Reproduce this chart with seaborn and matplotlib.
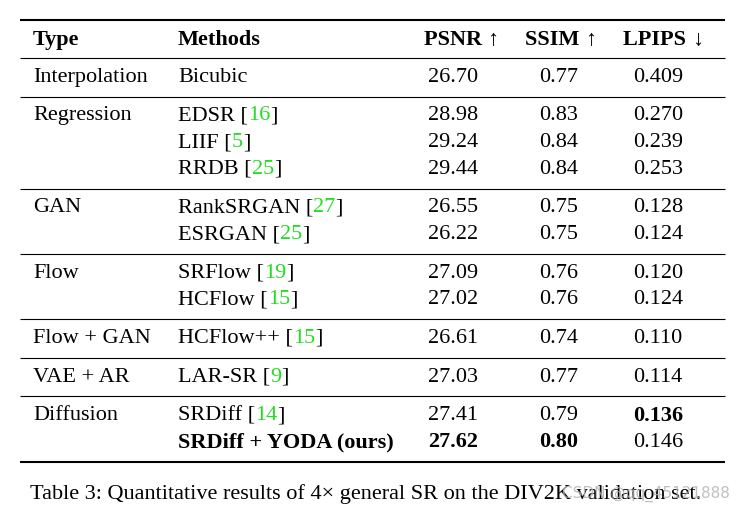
import matplotlib
matplotlib.use("Agg")
import matplotlib.pyplot as plt
import seaborn as sns

# ==============================
# Table data
# ==============================
types = ["Interpolation", "Regression", "", "", "GAN", "", "Flow", "",
         "Flow + GAN", "VAE + AR", "Diffusion", ""]
methods = ["Bicubic", "EDSR", "LIIF", "RRDB", "RankSRGAN", "ESRGAN", "SRFlow",
           "HCFlow", "HCFlow++", "LAR-SR", "SRDiff", "SRDiff + YODA (ours)"]
cites = ["", "16", "5", "25", "27", "25", "19", "15", "15", "9", "14", ""]
psnr = ["26.70", "28.98", "29.24", "29.44", "26.55", "26.22", "27.09", "27.02",
        "26.61", "27.03", "27.41", "27.62"]
ssim = ["0.77", "0.83", "0.84", "0.84", "0.75", "0.75", "0.76", "0.76",
        "0.74", "0.77", "0.79", "0.80"]
lpips = ["0.409", "0.270", "0.239", "0.253", "0.128", "0.124", "0.120", "0.124",
         "0.110", "0.114", "0.136", "0.146"]
group_sizes = [1, 3, 2, 2, 1, 1, 2]
bold_psnr = [11]
bold_ssim = [11]
bold_lpips = [10]
bold_method = [11]
caption = "Table 3: Quantitative results of 4\u00d7 general SR on the DIV2K validation set."

# ==============================
# Style
# ==============================
sns.set_theme(style="white")
plt.rcParams["font.family"] = ["Liberation Serif", "DejaVu Serif"]
FS = 16
GREEN = "#22dd22"

fig = plt.figure(figsize=(7.44, 5.15), dpi=100)
ax = fig.add_axes([0, 0, 1, 1])
ax.set_xlim(0, 744)
ax.set_ylim(515, 0)
ax.axis("off")
renderer = fig.canvas.get_renderer()


def draw_pieces(x, y, pieces, ha="left"):
    # pieces: list of (text, color, weight); drawn side by side
    objs = []
    widths = []
    for txt, col, wt in pieces:
        t = ax.text(0, y, txt, color=col, fontweight=wt, fontsize=FS,
                    va="center", ha="left")
        objs.append(t)
        widths.append(t.get_window_extent(renderer).width)
    total = sum(widths)
    start = x if ha == "left" else x - total / 2
    for t, w in zip(objs, widths):
        t.set_x(start)
        start += w


# columns
x_type, x_meth = 33, 178
x_psnr, x_ssim, x_lpips = 453, 559, 658

# rules
ax.hlines(20, 20, 725, color="black", lw=1.5)
header_y = 40
draw_pieces(x_type, header_y, [("Type", "black", "bold")])
draw_pieces(x_meth, header_y, [("Methods", "black", "bold")])
draw_pieces(461, header_y, [("PSNR ", "black", "bold"), ("\u2191", "black", "normal")], ha="center")
draw_pieces(561, header_y, [("SSIM ", "black", "bold"), ("\u2191", "black", "normal")], ha="center")
draw_pieces(663, header_y, [("LPIPS ", "black", "bold"), ("\u2193", "black", "normal")], ha="center")

y_rule = 58
ax.hlines(y_rule, 20, 725, color="black", lw=0.8)
pitch, pad = 26.7, 19.3
i = 0
for gi, n in enumerate(group_sizes):
    y = y_rule + pad
    for k in range(n):
        draw_pieces(x_type, y, [(types[i], "black", "normal")])
        mw = "bold" if i in bold_method else "normal"
        if cites[i]:
            draw_pieces(x_meth, y, [(methods[i] + " [", "black", mw),
                                    (cites[i], GREEN, mw), ("]", "black", mw)])
        else:
            draw_pieces(x_meth, y, [(methods[i], "black", mw)])
        draw_pieces(x_psnr, y, [(psnr[i], "black", "bold" if i in bold_psnr else "normal")], ha="center")
        draw_pieces(x_ssim, y, [(ssim[i], "black", "bold" if i in bold_ssim else "normal")], ha="center")
        draw_pieces(x_lpips, y, [(lpips[i], "black", "bold" if i in bold_lpips else "normal")], ha="center")
        i += 1
        if k < n - 1:
            y += pitch
    y_rule = y + pad
    last = gi == len(group_sizes) - 1
    ax.hlines(y_rule, 20, 725, color="black", lw=1.5 if last else 0.8)

ax.text(30, 494, caption, fontsize=FS, va="center", ha="left", color="black")
ax.text(730, 494, "CSDN @qq_45121888", fontsize=11, va="center", ha="right",
        color="#b0b0b0", alpha=0.8, family=["DejaVu Sans"])

fig.savefig("out.png", dpi=100)
